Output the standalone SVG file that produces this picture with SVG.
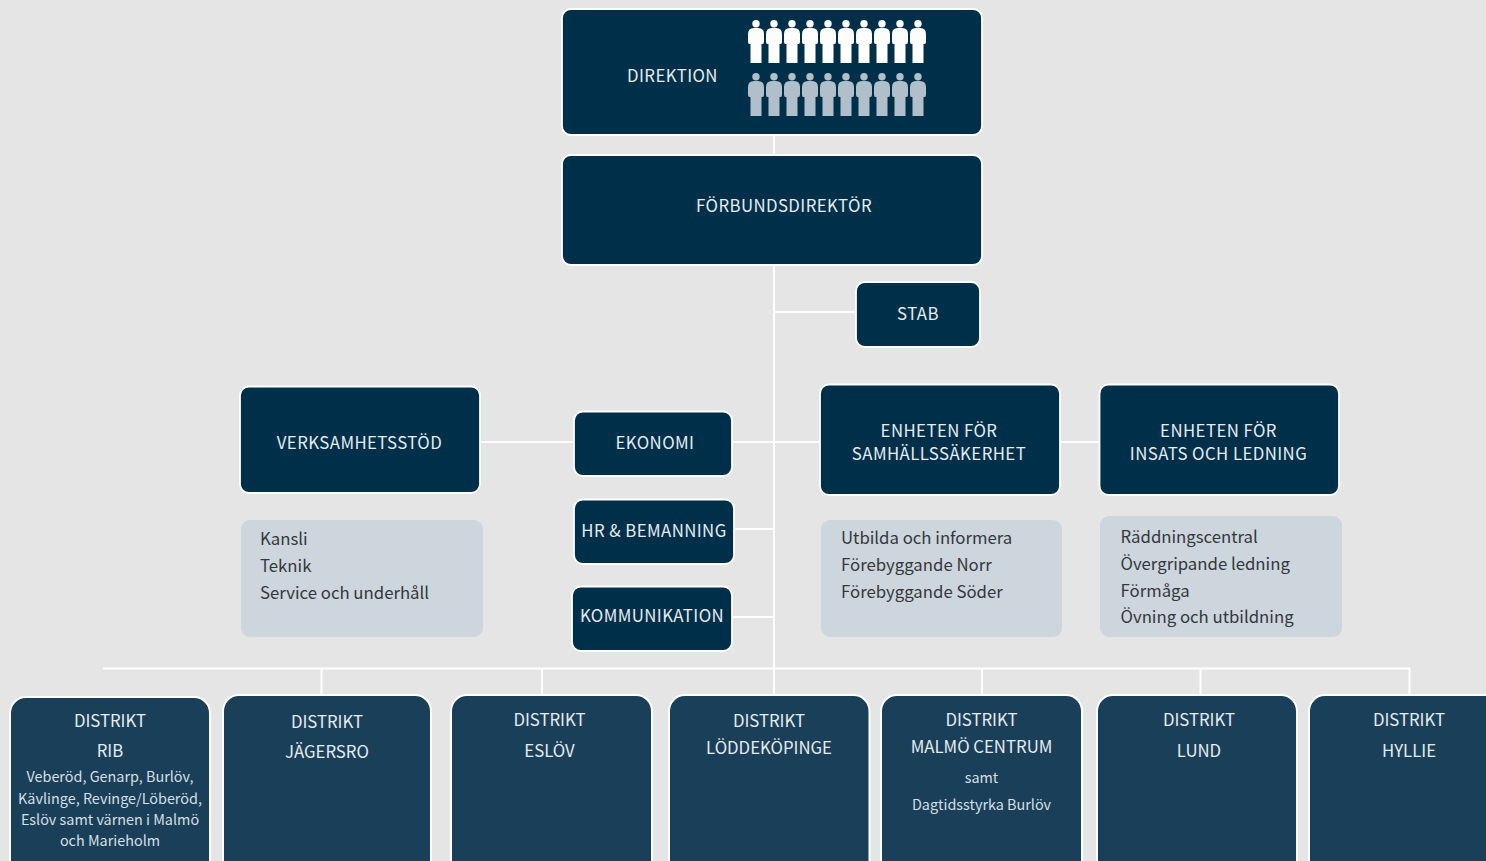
<svg xmlns="http://www.w3.org/2000/svg" width="1486" height="861" viewBox="0 0 1486 861">
<style>
text{font-family:"Noto Sans CJK SC","Source Sans Pro","Noto Sans",sans-serif;text-anchor:middle}
.n{fill:#002f4a;stroke:#fff;stroke-width:1.8}
.d{fill:#1a4059;stroke:#fff;stroke-width:2}
.l{fill:#cdd6dc}
.t{font-size:16.8px;fill:#e6ecf0;letter-spacing:.42px}
.dt{font-size:16.75px;fill:#e6ecf0}
.s{font-size:14.4px;fill:#d5dfe5}
.b{font-size:16.75px;fill:#33383c;text-anchor:start}
#c path{stroke:#fff;stroke-width:2;fill:none}
</style>
<defs>
<g id="p"><circle cx="0" cy="23.7" r="3.7"/><path d="M-5.500 63V44H-6.500Q-8 44-8 41.500V34Q-8 28-2 28H2Q8 28 8 34V41.500Q8 44 6.500 44H5.500V63Z"/></g>
<g id="r"><use href="#p" x="756"/><use href="#p" x="774"/><use href="#p" x="792"/><use href="#p" x="810"/><use href="#p" x="828"/><use href="#p" x="846"/><use href="#p" x="864"/><use href="#p" x="882"/><use href="#p" x="900"/><use href="#p" x="918"/></g>
</defs>
<rect width="1486" height="861" fill="#e5e5e5"/>
<g id="c">
<path d="M774 135V155M774 265V695M774 312H856M480 442H574M732 442H820M1060 442H1100M734 529H774M732 617H774M103 668.500H1410M321.500 668V695M542 668V695M982 668V695M1200.500 668V695M1409.500 668V695"/>
</g>
<g id="direktion"><rect class="n" x="562" y="9" width="420" height="126" rx="9"/><text class="t" x="672.500" y="82">DIREKTION</text>
<use href="#r" fill="#fff"/><use href="#r" y="53" fill="#b0bfc9"/></g>
<g id="forbundsdirektor"><rect class="n" x="562" y="155" width="420" height="110" rx="9"/><text class="t" x="784" y="212">FÖRBUNDSDIREKTÖR</text></g>
<g id="stab"><rect class="n" x="856" y="282" width="124" height="65" rx="9"/><text class="t" x="918" y="320">STAB</text></g>
<g id="verksamhetsstod"><rect class="n" x="240" y="386.500" width="240" height="106.500" rx="9"/><text class="t" x="359.500" y="449">VERKSAMHETSSTÖD</text></g>
<g id="verksamhetsstod-lista"><rect class="l" x="241" y="520" width="242" height="117" rx="9"/><text class="b" x="260" y="545">Kansli</text><text class="b" x="260" y="572">Teknik</text><text class="b" x="260" y="599">Service och underhåll</text></g>
<g id="ekonomi"><rect class="n" x="574" y="411.500" width="158" height="64.500" rx="9"/><text class="t" x="655" y="449">EKONOMI</text></g>
<g id="hr"><rect class="n" x="574" y="499.500" width="160" height="64.500" rx="9"/><text class="t" x="654" y="537">HR &amp; BEMANNING</text></g>
<g id="kommunikation"><rect class="n" x="572" y="586.500" width="160" height="64.500" rx="9"/><text class="t" x="652" y="622">KOMMUNIKATION</text></g>
<g id="samhallssakerhet"><rect class="n" x="820" y="384.500" width="240" height="110.500" rx="9"/><text class="t" x="939" y="437">ENHETEN FÖR</text><text class="t" x="939" y="460">SAMHÄLLSSÄKERHET</text></g>
<g id="samhallssakerhet-lista"><rect class="l" x="821" y="520" width="241" height="117" rx="9"/><text class="b" x="841" y="544">Utbilda och informera</text><text class="b" x="841" y="571">Förebyggande Norr</text><text class="b" x="841" y="598">Förebyggande Söder</text></g>
<g id="insats"><rect class="n" x="1099.500" y="384.500" width="239.500" height="110.500" rx="9"/><text class="t" x="1218.500" y="437">ENHETEN FÖR</text><text class="t" x="1218.500" y="460">INSATS OCH LEDNING</text></g>
<g id="insats-lista"><rect class="l" x="1100" y="516" width="242" height="121" rx="9"/><text class="b" x="1120.500" y="543">Räddningscentral</text><text class="b" x="1120.500" y="570">Övergripande ledning</text><text class="b" x="1120.500" y="597">Förmåga</text><text class="b" x="1120.500" y="623">Övning och utbildning</text></g>
<g id="rib"><rect class="d" x="10" y="697" width="200" height="180" rx="16"/><text class="dt" x="110" y="727">DISTRIKT</text><text class="dt" x="110" y="757">RIB</text><text class="s" x="110" y="782">Veberöd, Genarp, Burlöv,</text><text class="s" x="110" y="804">Kävlinge, Revinge/Löberöd,</text><text class="s" x="110" y="825">Eslöv samt värnen i Malmö</text><text class="s" x="110" y="846">och Marieholm</text></g>
<g id="jagersro"><rect class="d" x="223" y="695" width="208" height="182" rx="16"/><text class="dt" x="327" y="728">DISTRIKT</text><text class="dt" x="327" y="758">JÄGERSRO</text></g>
<g id="eslov"><rect class="d" x="451" y="695" width="201" height="182" rx="16"/><text class="dt" x="549.500" y="726">DISTRIKT</text><text class="dt" x="549.500" y="757">ESLÖV</text></g>
<g id="loddekoping"><rect class="d" x="669" y="695" width="200.500" height="182" rx="16"/><text class="dt" x="769" y="727">DISTRIKT</text><text class="dt" x="769" y="754">LÖDDEKÖPINGE</text></g>
<g id="malmo"><rect class="d" x="881" y="695" width="201" height="182" rx="16"/><text class="dt" x="981.500" y="726">DISTRIKT</text><text class="dt" x="981.500" y="753">MALMÖ CENTRUM</text><text class="s" x="981.500" y="783">samt</text><text class="s" x="981.500" y="810">Dagtidsstyrka Burlöv</text></g>
<g id="lund"><rect class="d" x="1097" y="695" width="200" height="182" rx="16"/><text class="dt" x="1199" y="726">DISTRIKT</text><text class="dt" x="1199" y="757">LUND</text></g>
<g id="hyllie"><rect class="d" x="1309" y="695" width="200" height="182" rx="16"/><text class="dt" x="1409" y="726">DISTRIKT</text><text class="dt" x="1409" y="757">HYLLIE</text></g>
</svg>
